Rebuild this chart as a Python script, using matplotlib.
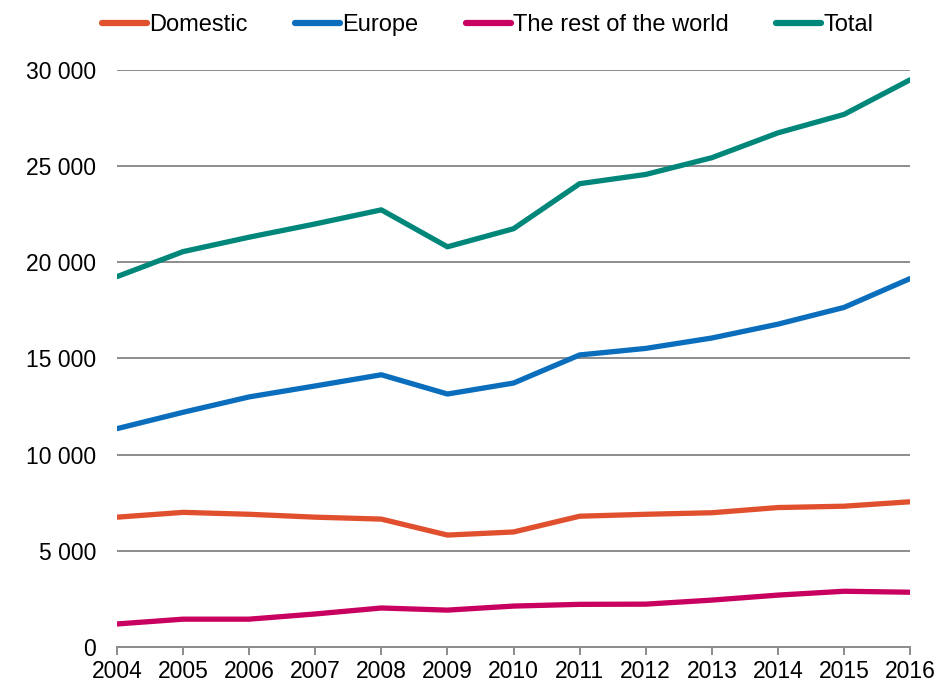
import matplotlib.pyplot as plt
from matplotlib.ticker import FuncFormatter

plt.rcParams['font.family'] = ['Liberation Sans', 'DejaVu Sans']

years = list(range(2004, 2017))
domestic = [6750, 7000, 6900, 6750, 6650, 5820, 5980, 6800, 6900, 6980, 7250, 7320, 7550]
europe = [11350, 12200, 13000, 13570, 14150, 13150, 13720, 15180, 15520, 16060, 16780, 17650, 19150]
rest = [1200, 1450, 1450, 1720, 2030, 1920, 2130, 2220, 2230, 2440, 2700, 2900, 2850]
total = [19250, 20550, 21300, 21990, 22720, 20800, 21740, 24080, 24560, 25430, 26720, 27680, 29480]

series = [
    ('Domestic', domestic, '#E0502E'),
    ('Europe', europe, '#0A6EBD'),
    ('The rest of the world', rest, '#C8005F'),
    ('Total', total, '#00877A'),
]

fig = plt.figure(figsize=(9.51, 6.84), dpi=100)
ax = fig.add_axes([0.123, 0.054, 0.834, 0.844])

for name, vals, col in series:
    ax.plot(years, vals, color=col, lw=3.8, label=name, solid_capstyle='round')

ax.set_xlim(2004, 2016)
ax.set_ylim(0, 30000)
ax.set_yticks(range(0, 30001, 5000))
ax.set_xticks(years)
ax.yaxis.set_major_formatter(FuncFormatter(lambda v, p: f'{int(v):,}'.replace(',', ' ')))
ax.grid(axis='y', color='#8C8C8C', lw=1.4)
ax.set_axisbelow(True)
for s in ['left', 'right', 'top']:
    ax.spines[s].set_visible(False)
ax.spines['bottom'].set_color('#8C8C8C')
ax.spines['bottom'].set_linewidth(1.4)
ax.tick_params(axis='y', length=0, labelsize=16.5, pad=15)
ax.tick_params(axis='x', length=6, width=1.4, color='#8C8C8C', labelsize=16.5, pad=3)

leg = fig.legend(loc='upper center', bbox_to_anchor=(0.513, 1.01), ncol=4, frameon=False,
                 fontsize=17, handlelength=1.9, handletextpad=0.1, columnspacing=2.0)
for h in leg.get_lines():
    h.set_linewidth(4.5)

fig.savefig('out.png', dpi=100)
